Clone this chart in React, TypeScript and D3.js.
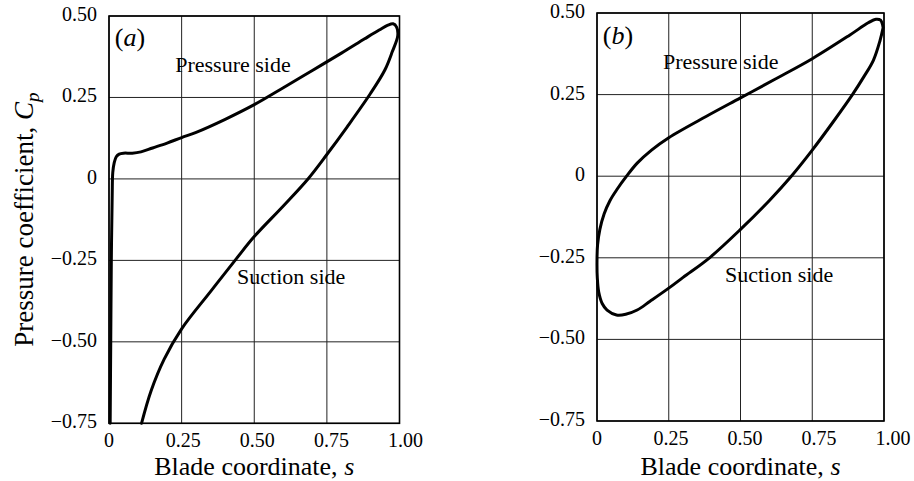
import React from "react";
import * as d3 from "d3";

// ---- Data ----
const xTicks = [0, 0.25, 0.5, 0.75, 1.0];
const xTickLabels = ["0", "0.25", "0.50", "0.75", "1.00"];
const yTicks = [0.5, 0.25, 0, -0.25, -0.5, -0.75];
const yTickLabels = ["0.50", "0.25", "0", "\u22120.25", "\u22120.50", "\u22120.75"];

// Panel (a): pressure side from leading edge to tip
const aPressureS = [0.004, 0.006, 0.008, 0.011, 0.013, 0.018, 0.025, 0.035, 0.05, 0.08, 0.11, 0.15, 0.2, 0.25, 0.3, 0.4, 0.5, 0.6, 0.7, 0.8, 0.88, 0.93, 0.96, 0.978, 0.99, 0.994];
const aPressureCp = [-0.75, -0.5, -0.25, -0.05, 0.02, 0.05, 0.068, 0.076, 0.079, 0.079, 0.083, 0.095, 0.11, 0.127, 0.143, 0.183, 0.228, 0.28, 0.333, 0.386, 0.43, 0.457, 0.472, 0.476, 0.466, 0.44];
// Panel (a): suction side from tip to bottom
const aSuctionS = [0.975, 0.95, 0.9, 0.82, 0.75, 0.685, 0.6, 0.5, 0.44, 0.35, 0.25, 0.19, 0.145, 0.112];
const aSuctionCp = [0.39, 0.335, 0.262, 0.16, 0.075, 0, -0.083, -0.177, -0.243, -0.345, -0.46, -0.553, -0.65, -0.75];

// Panel (b): closed loop, pressure side from tip to leading edge
const bPressureS = [0.997, 0.988, 0.972, 0.945, 0.88, 0.75, 0.62, 0.5, 0.38, 0.25, 0.19, 0.14, 0.103, 0.07, 0.045, 0.025, 0.01, 0.002, 0.0];
const bPressureCp = [0.455, 0.478, 0.481, 0.47, 0.432, 0.36, 0.297, 0.24, 0.183, 0.118, 0.08, 0.04, 0, -0.04, -0.075, -0.115, -0.163, -0.21, -0.26];
// Panel (b): suction side from leading edge back to tip
const bSuctionS = [0.001, 0.006, 0.018, 0.035, 0.068, 0.1, 0.14, 0.185, 0.25, 0.3, 0.392, 0.5, 0.6, 0.677, 0.75, 0.82, 0.89, 0.93, 0.963, 0.986, 0.997];
const bSuctionCp = [-0.31, -0.355, -0.39, -0.41, -0.425, -0.423, -0.41, -0.383, -0.343, -0.31, -0.25, -0.163, -0.075, 0, 0.08, 0.163, 0.25, 0.305, 0.355, 0.415, 0.455];

const FONT = "'Liberation Serif', 'Times New Roman', serif";

type Panel = {
  label: string;
  left: number; right: number; top: number; bottom: number;
  s: number[]; cp: number[];
  pressLabel: [number, number];
  suctLabel: [number, number];
  tagPos: [number, number];
  drift: number;
  showYTitle: boolean;
};

const zip = (s: number[], c: number[]) => s.map((v, i) => [v, c[i]] as [number, number]);

const panels: Panel[] = [
  {
    label: "a", left: 109, right: 399.5, top: 16, bottom: 423.3,
    s: [...aPressureS, ...aSuctionS], cp: [...aPressureCp, ...aSuctionCp],
    pressLabel: [0.228, 0.329], suctLabel: [0.441, -0.322], tagPos: [0.02, 0.408],
    drift: 6, showYTitle: true,
  },
  {
    label: "b", left: 597, right: 884, top: 13, bottom: 421,
    s: [...bPressureS, ...bSuctionS], cp: [...bPressureCp, ...bSuctionCp],
    pressLabel: [0.23, 0.327], suctLabel: [0.446, -0.323], tagPos: [0.02, 0.404],
    drift: 9, showYTitle: false,
  },
];

function PanelView({ p }: { p: Panel }) {
  const x = d3.scaleLinear().domain([0, 1]).range([p.left, p.right]);
  const y = d3.scaleLinear().domain([-0.75, 0.5]).range([p.bottom, p.top]);
  const line = d3
    .line<[number, number]>()
    .x((d) => x(d[0]))
    .y((d) => y(d[1]))
    .curve(d3.curveCatmullRom.alpha(0.5));
  const pts = zip(p.s, p.cp);
  const cx = (p.left + p.right) / 2;
  const cy = (p.top + p.bottom) / 2;
  return (
    <g>
      {xTicks.map((t) => (
        <line key={"gx" + t} x1={x(t)} x2={x(t)} y1={p.top} y2={p.bottom} stroke="#222" strokeWidth={1} />
      ))}
      {yTicks.map((t) => (
        <line key={"gy" + t} x1={p.left} x2={p.right} y1={y(t)} y2={y(t)} stroke="#222" strokeWidth={1} />
      ))}
      <rect x={p.left} y={p.top} width={p.right - p.left} height={p.bottom - p.top} fill="none" stroke="#000" strokeWidth={1.6} />
      <path d={line(pts) || ""} fill="none" stroke="#000" strokeWidth={3} strokeLinejoin="round" strokeLinecap="round" />
      {yTicks.map((t, i) => (
        <text key={"ly" + t} x={p.left - 12} y={y(t) + 5} textAnchor="end" fontSize={20} fontFamily={FONT} fill="#000">
          {yTickLabels[i]}
        </text>
      ))}
      {xTicks.map((t, i) => (
        <text key={"lx" + t} x={x(t) + t * p.drift} y={p.bottom + 24} textAnchor="middle" fontSize={20} fontFamily={FONT} fill="#000">
          {xTickLabels[i]}
        </text>
      ))}
      <text x={cx} y={475} textAnchor="middle" fontSize={26} fontFamily={FONT} fill="#000">
        Blade coordinate, <tspan fontStyle="italic">s</tspan>
      </text>
      {p.showYTitle && (
        <text transform={`translate(33,${cy}) rotate(-90)`} textAnchor="middle" fontSize={27} fontFamily={FONT} fill="#000">
          Pressure coefficient, <tspan fontStyle="italic">C</tspan>
          <tspan fontStyle="italic" fontSize={19} dy={6}>p</tspan>
        </text>
      )}
      <text x={x(p.tagPos[0])} y={y(p.tagPos[1])} fontSize={26} fontFamily={FONT} fill="#000">
        (<tspan fontStyle="italic">{p.label}</tspan>)
      </text>
      <text x={x(p.pressLabel[0])} y={y(p.pressLabel[1])} fontSize={22} fontFamily={FONT} fill="#000">
        Pressure side
      </text>
      <text x={x(p.suctLabel[0])} y={y(p.suctLabel[1])} fontSize={22} fontFamily={FONT} fill="#000">
        Suction side
      </text>
    </g>
  );
}

export default function App() {
  return (
    <svg width={914} height={481} viewBox="0 0 914 481" style={{ display: "block", position: "absolute", left: 0, top: 0, background: "#fff" }}>
      <rect x={0} y={0} width={914} height={481} fill="#fff" />
      {panels.map((p) => (
        <PanelView key={p.label} p={p} />
      ))}
    </svg>
  );
}
